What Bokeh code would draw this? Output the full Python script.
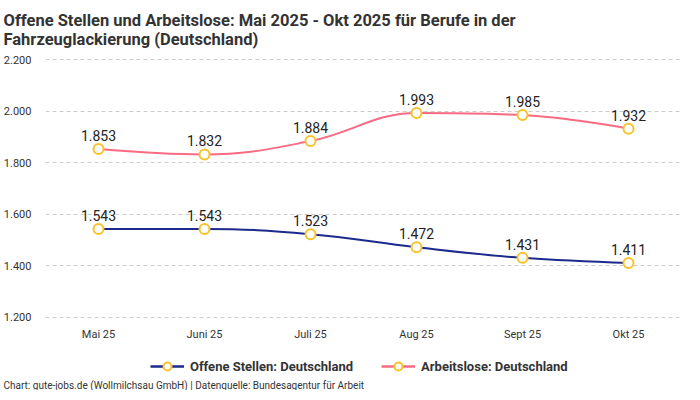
from bokeh.plotting import figure
from bokeh.models import Range1d, Title, Legend, LegendItem, ColumnDataSource, FixedTicker
from bokeh.layouts import column
from bokeh.core.properties import value
from bokeh.embed import file_html
from bokeh.resources import INLINE

months = ["Mai 25", "Juni 25", "Juli 25", "Aug 25", "Sept 25", "Okt 25"]
offene_stellen = [1543, 1543, 1523, 1472, 1431, 1411]
arbeitslose = [1853, 1832, 1884, 1993, 1985, 1932]
y_ticks = [1200, 1400, 1600, 1800, 2000, 2200]

FONT = "Roboto"
TXT = "#333333"

def de(n):
    return f"{n:,}".replace(",", ".")

def spline_segments(xs, ys, smoothing=1.5):
    n = len(xs)
    left = [None] * n
    right = [None] * n
    denom = smoothing + 1
    for i in range(n):
        px, py = xs[i], ys[i]
        if i == 0 or i == n - 1:
            left[i] = (px, py)
            right[i] = (px, py)
            continue
        lx, ly = xs[i - 1], ys[i - 1]
        nx, ny = xs[i + 1], ys[i + 1]
        lcx = (smoothing * px + lx) / denom
        lcy = (smoothing * py + ly) / denom
        rcx = (smoothing * px + nx) / denom
        rcy = (smoothing * py + ny) / denom
        corr = 0
        if rcx != lcx:
            corr = (rcy - lcy) * (rcx - px) / (rcx - lcx) + py - rcy
        lcy += corr
        rcy += corr
        if lcy > ly and lcy > py:
            lcy = max(ly, py); rcy = 2 * py - lcy
        elif lcy < ly and lcy < py:
            lcy = min(ly, py); rcy = 2 * py - lcy
        if rcy > ny and rcy > py:
            rcy = max(ny, py); lcy = 2 * py - rcy
        elif rcy < ny and rcy < py:
            rcy = min(ny, py); lcy = 2 * py - rcy
        left[i] = (lcx, lcy)
        right[i] = (rcx, rcy)
    seg = dict(x0=[], y0=[], x1=[], y1=[], cx0=[], cy0=[], cx1=[], cy1=[])
    for i in range(n - 1):
        seg["x0"].append(xs[i]); seg["y0"].append(ys[i])
        seg["x1"].append(xs[i + 1]); seg["y1"].append(ys[i + 1])
        seg["cx0"].append(right[i][0]); seg["cy0"].append(right[i][1])
        seg["cx1"].append(left[i + 1][0]); seg["cy1"].append(left[i + 1][1])
    return seg

xpos = [i + 0.5 for i in range(len(months))]

p = figure(frame_width=636, frame_height=262, output_backend="svg", toolbar_location=None,
           x_range=Range1d(0, len(months)), y_range=Range1d(1192, 2208),
           min_border_left=44, min_border_right=4, min_border_top=0, min_border_bottom=0)
p.outline_line_color = None
p.background_fill_color = "white"

p.xgrid.grid_line_color = None
p.ygrid.grid_line_color = "#cccccc"
p.ygrid.grid_line_dash = "4 3"
p.ygrid.grid_line_width = 1

p.yaxis.ticker = FixedTicker(ticks=y_ticks)
p.yaxis.major_label_overrides = {t: de(t) for t in y_ticks}
p.xaxis.ticker = FixedTicker(ticks=xpos)
p.xaxis.major_label_overrides = {x: m for x, m in zip(xpos, months)}
for ax in (p.xaxis, p.yaxis):
    ax.axis_line_color = None
    ax.major_tick_line_color = None
    ax.minor_tick_line_color = None
    ax.major_tick_out = 0
    ax.major_tick_in = 0
    ax.major_label_text_font = FONT
    ax.major_label_text_font_size = "11px"
    ax.major_label_text_color = TXT
p.yaxis.major_label_standoff = 14
p.xaxis.major_label_standoff = 8

series = [
    (offene_stellen, "#1b2a8c", "Offene Stellen: Deutschland"),
    (arbeitslose, "#fa6a82", "Arbeitslose: Deutschland"),
]

lg = figure(frame_width=636, frame_height=34, output_backend="svg", toolbar_location=None,
            x_range=Range1d(0, 636), y_range=Range1d(0, 34),
            min_border_left=44, min_border_right=4, min_border_top=0, min_border_bottom=0,
            x_axis_type=None, y_axis_type=None)
lg.outline_line_color = None
lg.xgrid.visible = False
lg.ygrid.visible = False

items = []
for vals, color, label in series:
    seg = spline_segments(xpos, vals)
    p.bezier(x0="x0", y0="y0", x1="x1", y1="y1", cx0="cx0", cy0="cy0", cx1="cx1", cy1="cy1",
             source=ColumnDataSource(seg), line_color=color, line_width=2)
    p.scatter(xpos, vals, size=10, fill_color="white", line_color="#f8c22a", line_width=2)
    p.text(xpos, vals, text=[de(v) for v in vals], text_font=value(FONT), text_font_size="14px",
           text_font_style="normal", text_color="#222222", text_align="center",
           text_baseline="bottom", y_offset=-8)
    # legend proxies in the legend strip (outside its visible range)
    ll = lg.line([-20, -10], [-20, -10], line_color=color, line_width=2.5)
    lm = lg.scatter([-20], [-20], size=10, fill_color="white", line_color="#f8c22a", line_width=2)
    items.append(LegendItem(label=label, renderers=[ll, lm]))

legend = Legend(items=items, orientation="horizontal", location=(105, 1),
                label_text_font=FONT, label_text_font_size="13px", label_text_font_style="bold",
                label_text_color=TXT, border_line_color=None, background_fill_alpha=0,
                spacing=28, glyph_width=34, label_standoff=6, padding=2, margin=0)
lg.add_layout(legend)

footer = Title(text="Chart: gute-jobs.de (Wollmilchsau GmbH) | Datenquelle: Bundesagentur für Arbeit",
               text_font=FONT, text_font_size="10px", text_font_style="normal",
               text_color=TXT, align="left", offset=-42, standoff=0)
lg.add_layout(footer, "below")

title = Title(text="Offene Stellen und Arbeitslose: Mai 2025 - Okt 2025 für Berufe in der\nFahrzeuglackierung (Deutschland)",
              text_font=FONT, text_font_size="16.5px", text_font_style="bold",
              text_color=TXT, align="left", offset=-42, standoff=17)
p.add_layout(title, "above")

layout = column(p, lg, spacing=0)
open("out.html", "w").write(file_html(layout, INLINE))
